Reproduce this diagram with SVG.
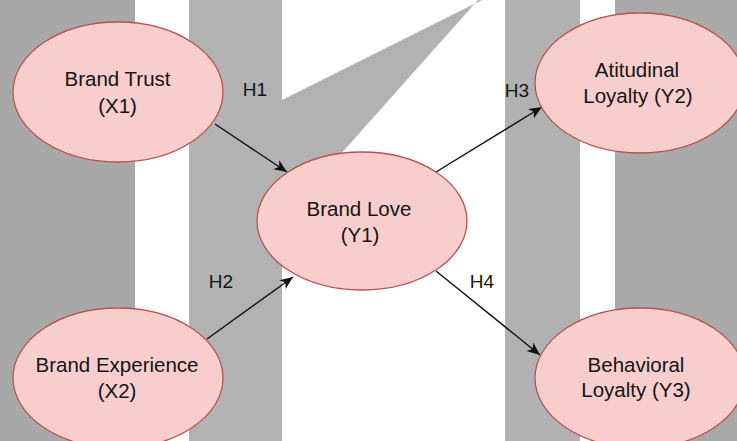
<svg xmlns="http://www.w3.org/2000/svg" width="737" height="441" viewBox="0 0 737 441">
  <style>
    .node ellipse { fill: #f8cecc; stroke: #b85450; stroke-width: 1.3; }
    .node text, .lbl { font-family: "Liberation Sans", Arial, Helvetica, sans-serif; font-size: 20.5px; fill: #141414; text-anchor: middle; }
    .lbl { font-size: 19px; }
    .edge { stroke: #111; stroke-width: 1.4; fill: none; marker-end: url(#arrow); }
  </style>
  <defs>
    <marker id="arrow" markerUnits="userSpaceOnUse" markerWidth="14" markerHeight="12" refX="13" refY="5.5" orient="auto">
      <path d="M0,0 L13,5.5 L0,11 L3.5,5.5 Z" fill="#111"/>
    </marker>
  </defs>
  <g id="background">
    <rect x="0" y="0" width="737" height="441" fill="#ffffff"/>
    <rect x="0" y="0" width="135" height="441" fill="#a8a8a8"/>
    <polygon points="189,0 282,0 282,100 482,0 478,0 282,220 282,441 189,441" fill="#b2b2b2"/>
    <rect x="505" y="0" width="75" height="441" fill="#b1b1b1"/>
    <rect x="615" y="0" width="122" height="441" fill="#a9a9a9"/>
  </g>
  <g id="connectors">
    <line class="edge" x1="215" y1="124" x2="287" y2="172"/>
    <line class="edge" x1="207" y1="339" x2="293" y2="277"/>
    <line class="edge" x1="436" y1="172" x2="542" y2="107"/>
    <line class="edge" x1="436" y1="271" x2="540" y2="355"/>
    <text class="lbl" x="255" y="96">H1</text>
    <text class="lbl" x="221" y="288">H2</text>
    <text class="lbl" x="517" y="97">H3</text>
    <text class="lbl" x="482" y="288">H4</text>
  </g>
  <g id="brand-trust" class="node">
    <ellipse cx="118" cy="92" rx="105" ry="70"/>
    <text x="117.5" y="86">Brand Trust</text>
    <text x="117.5" y="113">(X1)</text>
  </g>
  <g id="brand-experience" class="node">
    <ellipse cx="118" cy="378" rx="105" ry="70"/>
    <text x="117" y="372">Brand Experience</text>
    <text x="117" y="398">(X2)</text>
  </g>
  <g id="brand-love" class="node">
    <ellipse cx="362" cy="221" rx="105" ry="69"/>
    <text x="359" y="216">Brand Love</text>
    <text x="360" y="242">(Y1)</text>
  </g>
  <g id="attitudinal-loyalty" class="node">
    <ellipse cx="640" cy="83" rx="105" ry="70"/>
    <text x="637" y="77">Atitudinal</text>
    <text x="638" y="103">Loyalty (Y2)</text>
  </g>
  <g id="behavioral-loyalty" class="node">
    <ellipse cx="640" cy="378" rx="105" ry="70"/>
    <text x="636" y="372">Behavioral</text>
    <text x="636" y="397">Loyalty (Y3)</text>
  </g>
</svg>
